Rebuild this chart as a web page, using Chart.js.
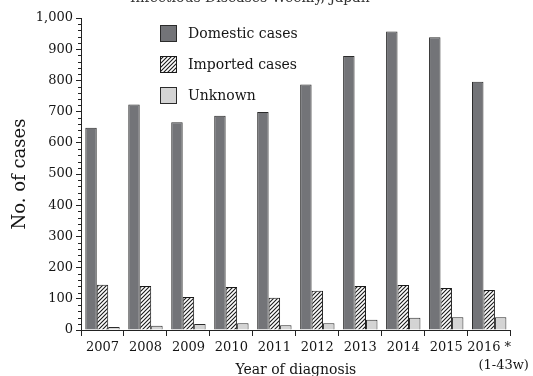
<!DOCTYPE html>
<html>
<head>
<meta charset="utf-8">
<script src="https://cdn.jsdelivr.net/npm/chart.js@4/dist/chart.umd.min.js"></script>
<style>
  html, body { margin: 0; padding: 0; background: #fff; }
  #wrap { width: 533px; height: 376px; position: relative; }
</style>
</head>
<body>
<div id="wrap"><canvas id="c" width="533" height="376"></canvas></div>
<script>
// Amebiasis notifications by year of diagnosis and route of infection
const years = ['2007', '2008', '2009', '2010', '2011', '2012', '2013', '2014', '2015', '2016 *'];
const domesticCases = [648, 723, 666, 687, 699, 787, 878, 957, 938, 796];
const importedCases = [145, 141, 106, 138, 103, 126, 141, 144, 135, 128];
const unknownCases  = [10, 14, 19, 22, 15, 22, 33, 39, 41, 41];
const seriesNames = ['Domestic cases', 'Imported cases', 'Unknown'];
const yTickValues = [0, 100, 200, 300, 400, 500, 600, 700, 800, 900, 1000];
const lastYearNote = '(1-43w)';

const SERIF = "'DejaVu Serif', 'Liberation Serif', serif";
const INK = '#222';
const TEXT = '#151515';

// diagonal hatch for imported cases
function makeHatch() {
  const size = 4;
  const pc = document.createElement('canvas');
  pc.width = size; pc.height = size;
  const g = pc.getContext('2d');
  g.fillStyle = '#ffffff';
  g.fillRect(0, 0, size, size);
  g.strokeStyle = '#1a1a1a';
  g.lineWidth = 1.1;
  g.beginPath();
  g.moveTo(-1, size + 1); g.lineTo(size + 1, -1);
  g.moveTo(-1, 1); g.lineTo(1, -1);
  g.moveTo(size - 1, size + 1); g.lineTo(size + 1, size - 1);
  g.stroke();
  return g.createPattern(pc, 'repeat');
}
const hatch = makeHatch();

// minor ticks every 20 cases on the value axis
const minorTicks = {
  id: 'minorTicks',
  afterDraw(chart) {
    const y = chart.scales.y;
    const ctx = chart.ctx;
    const x0 = chart.chartArea.left;
    ctx.save();
    ctx.strokeStyle = INK;
    ctx.lineWidth = 1;
    ctx.beginPath();
    for (let v = 0; v <= 1000; v += 20) {
      if (v % 100 === 0) continue;
      const py = Math.round(y.getPixelForValue(v)) + 0.5;
      ctx.moveTo(x0 - 3, py);
      ctx.lineTo(x0, py);
    }
    ctx.stroke();
    ctx.restore();
  }
};

// legend drawn inside the plot area
const innerLegend = {
  id: 'innerLegend',
  afterDraw(chart) {
    const ctx = chart.ctx;
    const boxX = 160, box = 17, textX = 188;
    const rows = [33.5, 64.5, 95.5];
    ctx.save();
    ctx.font = '14px ' + SERIF;
    ctx.textBaseline = 'middle';
    chart.data.datasets.forEach((ds, i) => {
      const cy = rows[i];
      ctx.fillStyle = ds.backgroundColor;
      ctx.fillRect(boxX, cy - box / 2, box, box);
      ctx.strokeStyle = ds.borderColor;
      ctx.lineWidth = 1;
      ctx.strokeRect(boxX + 0.5, cy - box / 2 + 0.5, box - 1, box - 1);
      ctx.fillStyle = TEXT;
      ctx.fillText(ds.label, textX, cy + 1);
    });
    ctx.restore();
  }
};

// heading line, running off the top edge
const topNote = {
  id: 'topNote',
  afterDraw(chart) {
    const ctx = chart.ctx;
    ctx.save();
    ctx.font = '14px ' + SERIF;
    ctx.fillStyle = '#333';
    ctx.textBaseline = 'alphabetic';
    ctx.fillText('Infectious Diseases Weekly, Japan', 130, 2);
    ctx.restore();
  }
};

new Chart(document.getElementById('c'), {
  type: 'bar',
  data: {
    labels: years,
    datasets: [
      { label: seriesNames[0], data: domesticCases, backgroundColor: '#737478', borderColor: '#2b2b2b', borderWidth: 1 },
      { label: seriesNames[1], data: importedCases, backgroundColor: hatch, borderColor: '#1a1a1a', borderWidth: 1 },
      { label: seriesNames[2], data: unknownCases, backgroundColor: '#d4d4d4', borderColor: '#2b2b2b', borderWidth: 1 }
    ]
  },
  options: {
    responsive: false,
    animation: false,
    devicePixelRatio: 1,
    layout: { padding: { top: 18, right: 22, left: 0, bottom: 0 } },
    datasets: { bar: { categoryPercentage: 0.8, barPercentage: 1.0 } },
    plugins: {
      legend: { display: false },
      tooltip: { enabled: false }
    },
    scales: {
      x: {
        type: 'category',
        offset: true,
        grid: { offset: true, drawOnChartArea: false, tickLength: 6, color: INK, tickColor: INK },
        border: { color: INK, width: 1 },
        ticks: {
          autoSkip: false, maxRotation: 0, padding: 3, color: TEXT,
          font: { family: SERIF, size: 13, lineHeight: 1.35 },
          callback(v, i) {
            const name = years[i];
            return i === years.length - 1 ? [name, '       ' + lastYearNote] : name;
          }
        },
        title: {
          display: true, text: 'Year of diagnosis', color: TEXT,
          font: { family: SERIF, size: 14, lineHeight: 1 },
          padding: { top: 0, bottom: -1 }
        },
        afterFit(s) { s.height = 46; }
      },
      y: {
        min: 0, max: 1000,
        afterBuildTicks(s) { s.ticks = yTickValues.map(v => ({ value: v })); },
        grid: { drawOnChartArea: false, tickLength: 5, color: INK, tickColor: INK },
        border: { color: INK, width: 1 },
        ticks: {
          padding: 3, color: TEXT,
          font: { family: SERIF, size: 13 },
          callback(v) { return v.toLocaleString('en-US'); }
        },
        title: {
          display: true, text: 'No. of cases', color: TEXT,
          font: { family: SERIF, size: 18, lineHeight: 1.2 },
          padding: { top: 10, bottom: 0 }
        },
        afterFit(s) { s.width = 81; }
      }
    }
  },
  plugins: [minorTicks, innerLegend, topNote]
});
</script>
</body>
</html>
